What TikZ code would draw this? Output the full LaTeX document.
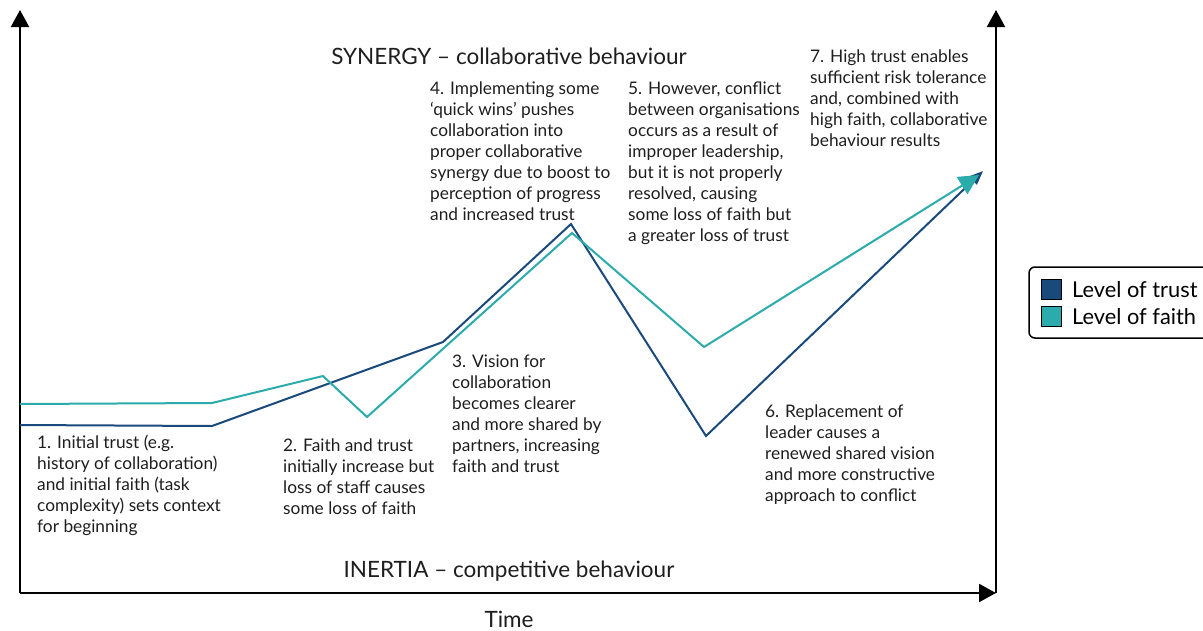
\documentclass[tikz,border=0pt]{standalone}
\usepackage{fontspec}
\setmainfont{Lato}
\usetikzlibrary{arrows.meta}

\definecolor{trustblue}{HTML}{1A4A7C}
\definecolor{faithteal}{HTML}{2BABAB}
\definecolor{inkgrey}{HTML}{1E1E1E}

\begin{document}
\begin{tikzpicture}[x=1pt,y=-1pt,
    axis/.style={line width=2pt,-{Triangle[length=17pt,width=18pt]}},
    trustline/.style={trustblue,line width=2pt,-{Triangle[length=14pt,width=11pt]}},
    faithline/.style={faithteal,line width=2pt,-{Triangle[length=20pt,width=20pt]}},
    note/.style={anchor=north west,align=left,inner sep=0pt,text=inkgrey,
      font=\fontsize{17.3}{21}\selectfont},
    heading/.style={anchor=base,inner sep=0pt,text=inkgrey,font=\fontsize{22.5}{26}\selectfont},
    keybox/.style={draw,line width=1.2pt,minimum size=20pt,inner sep=0pt}]
        \useasboundingbox (0,0) rectangle (1203,630);
        \coordinate (o) at (20,593);
        \coordinate (top) at (20,10);
        \coordinate (r) at (996,593);
        \coordinate (rtop) at (996,10);
        \draw[axis] (o) -- (top);
        \draw[axis] (o) -- (r);
        \draw[axis] (r) -- (rtop);
        \foreach \n/\x/\y in {1/20/425, 2/212/426, 3/443/342, 4/571/224, 5/706/436, 6/983/171} {
          \coordinate (t\n) at (\x,\y);
        }
        \foreach \n/\x/\y in {1/20/404, 2/212/403, 3/323/376, 4/367/417, 5/572/233, 6/704/347, 7/979/175} {
          \coordinate (f\n) at (\x,\y);
        }
        \draw[trustline] (t1) -- (t2) -- (t3) -- (t4) -- (t5) -- (t6);
        \draw[faithline] (f1) -- (f2) -- (f3) -- (f4) -- (f5) -- (f6) -- (f7);
        \node[heading] (synergy) at (509,64) {SYNERGY -- collaborative behaviour};
        \node[heading] (inertia) at (509,577) {INERTIA -- competitive behaviour};
        \node[heading] (time) at (509,627) {Time};
        \node[note] (n1) at (37,434.5) {1. Initial trust (e.g.\\history of collaboration)\\and initial faith (task\\complexity) sets context\\for beginning};
        \node[note] (n2) at (283,438.5) {2. Faith and trust\\initially increase but\\loss of staff causes\\some loss of faith};
        \node[note] (n3) at (452,354.5) {3. Vision for\\collaboration\\becomes clearer\\and more shared by\\partners, increasing\\faith and trust};
        \node[note] (n4) at (430,81.5) {4. Implementing some\\`quick wins' pushes\\collaboration into\\proper collaborative\\synergy due to boost to\\perception of progress\\and increased trust};
        \node[note] (n5) at (628,81.5) {5. However, conflict\\between organisations\\occurs as a result of\\improper leadership,\\but it is not properly\\resolved, causing\\some loss of faith but\\a greater loss of trust};
        \node[note] (n6) at (765,404.5) {6. Replacement of\\leader causes a\\renewed shared vision\\and more constructive\\approach to conflict};
        \node[note] (n7) at (810,49.5) {7. High trust enables\\sufficient risk tolerance\\and, combined with\\high faith, collaborative\\behaviour results};
        \draw[line width=1.5pt,rounded corners=6pt] (1029,267) rectangle (1215,338);
        \node[keybox,fill=trustblue] (ktrust) at (1051.5,289.5) {};
        \node[keybox,fill=faithteal] (kfaith) at (1051.5,316.5) {};
        \node[anchor=west,inner sep=0pt,font=\fontsize{21.8}{26}\selectfont] (ltrust) at (1072,289.5) {Level of trust};
        \node[anchor=west,inner sep=0pt,font=\fontsize{21.8}{26}\selectfont] (lfaith) at (1072,316.5) {Level of faith};
\end{tikzpicture}
\end{document}
